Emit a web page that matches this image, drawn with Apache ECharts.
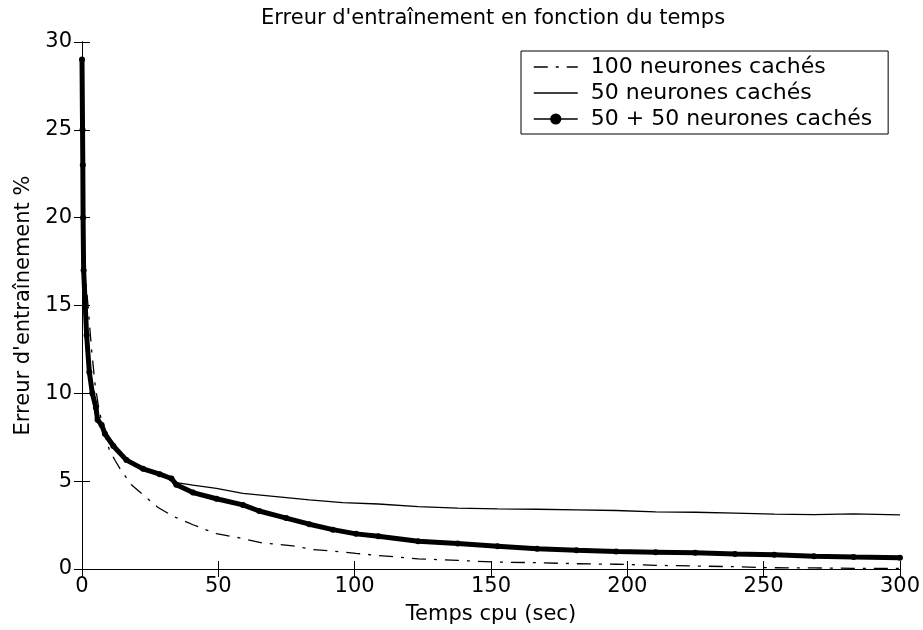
<!DOCTYPE html>
<html>
<head>
<meta charset="utf-8">
<script src="https://cdn.jsdelivr.net/npm/echarts@6/dist/echarts.min.js"></script>
<style>
html,body{margin:0;padding:0;background:#fff;}
#chart{width:923px;height:630px;}
</style>
</head>
<body>
<div id="chart"></div>
<script>
var titleText = "Erreur d'entraînement en fonction du temps";
var xAxisName = "Temps cpu (sec)";
var yAxisName = "Erreur d'entraînement %";
var seriesNames = ["100 neurones cachés", "50 neurones cachés", "50 + 50 neurones cachés"];

// [temps cpu (sec), erreur %]
var neurones100 = [[0,25],[1.1,17],[2.3,14.8],[3.5,12.5],[4.8,10.5],[6,9.3],[8,7.8],[10,6.8],[12.1,6.19],[14.3,5.62],[18.2,4.78],[23.7,4.05],[27.9,3.5],[33.4,3.0],[40.7,2.52],[44.4,2.3],[49.3,2.01],[57.8,1.77],[66.3,1.48],[77.3,1.32],[84.6,1.11],[92,1.02],[100.5,0.89],[108.7,0.77],[123.3,0.58],[137.8,0.49],[152.4,0.39],[166.9,0.36],[181.4,0.30],[195.9,0.27],[210.4,0.21],[224.9,0.17],[239.5,0.13],[253.9,0.07],[268.5,0.06],[283,0.04],[300,0.04]];
var neurones50 = [[0,24],[0.5,19],[1.5,14],[2.8,11.5],[4,10],[6,8.6],[8.5,7.7],[11.5,7.05],[16.3,6.25],[22.4,5.75],[28.5,5.45],[32.8,5.15],[34.6,4.92],[40.7,4.78],[49.3,4.59],[59,4.3],[71.2,4.12],[83.4,3.93],[95.6,3.78],[108.7,3.7],[123.3,3.55],[137.8,3.46],[152.4,3.42],[166.9,3.40],[181.4,3.37],[195.9,3.33],[210.4,3.25],[224.9,3.23],[239.5,3.18],[253.9,3.12],[268.5,3.1],[283,3.14],[300,3.08]];
var neurones50p50 = [[0,29],[0.2,25],[0.3,23],[0.4,20],[0.6,17],[1.7,13.3],[2.7,11.2],[3.8,10.0],[5.1,9.2],[5.7,8.5],[7.2,8.2],[8.4,7.7],[11.5,7.0],[16.3,6.2],[22.4,5.7],[28.5,5.4],[32.8,5.15],[34.6,4.8],[40.7,4.35],[49.3,4.0],[59,3.65],[65,3.3],[74.9,2.9],[83.4,2.55],[92,2.24],[100.5,2.0],[108.7,1.86],[123.3,1.58],[137.8,1.45],[152.4,1.3],[166.9,1.15],[181.4,1.07],[195.9,1.0],[210.4,0.96],[224.9,0.92],[239.5,0.86],[253.9,0.81],[268.5,0.73],[283,0.68],[300,0.64]];

var FONT = "DejaVu Sans";
var chart = echarts.init(document.getElementById('chart'), null, {renderer:'canvas'});
var axisLineStyle = {lineStyle:{color:'#000', width:1}};
var tickStyle = {inside:true, length:8, lineStyle:{color:'#000', width:1}};
chart.setOption({
  animation:false,
  backgroundColor:'#fff',
  title:{text:titleText, left:256, top:3, textStyle:{fontFamily:FONT, fontSize:21, fontWeight:'normal', color:'#000'}},
  grid:{left:82, right:21, top:42, bottom:57},
  legend:{
    orient:'vertical', left:521, top:51,
    backgroundColor:'#fff', borderColor:'#000', borderWidth:1,
    padding:[5,16,4,12], itemWidth:44, itemHeight:14, itemGap:4,
    lineStyle:{width:1.5},
    textStyle:{fontFamily:FONT, fontSize:22, color:'#000', lineHeight:22, padding:[0,0,0,8]},
    data:[
      {name:seriesNames[0], itemStyle:{opacity:0}},
      {name:seriesNames[1], itemStyle:{opacity:0}},
      {name:seriesNames[2]}
    ]
  },
  xAxis:[
    {type:'value', min:0, max:300, interval:50, name:xAxisName, nameLocation:'middle', nameGap:35,
     nameTextStyle:{fontFamily:FONT, fontSize:21, color:'#000'},
     axisLine:axisLineStyle, axisTick:tickStyle, splitLine:{show:false},
     axisLabel:{fontFamily:FONT, fontSize:21, color:'#000', margin:7}},
    {type:'value', position:'top', min:0, max:300, interval:50,
     axisLine:axisLineStyle, axisTick:tickStyle, splitLine:{show:false}, axisLabel:{show:false}}
  ],
  yAxis:[
    {type:'value', min:0, max:30, interval:5, name:yAxisName, nameLocation:'middle', nameGap:46,
     nameTextStyle:{fontFamily:FONT, fontSize:21, color:'#000'},
     axisLine:axisLineStyle, axisTick:tickStyle, splitLine:{show:false},
     axisLabel:{fontFamily:FONT, fontSize:21, color:'#000', margin:10}},
    {type:'value', position:'right', min:0, max:30, interval:5,
     axisLine:axisLineStyle, axisTick:tickStyle, splitLine:{show:false}, axisLabel:{show:false}}
  ],
  series:[
    {name:seriesNames[0], type:'line', data:neurones100, symbol:'none', color:'#000',
     lineStyle:{color:'#000', width:1.3, type:[14,8,3,8]}},
    {name:seriesNames[1], type:'line', data:neurones50, symbol:'none', color:'#000',
     lineStyle:{color:'#000', width:1.3}},
    {name:seriesNames[2], type:'line', data:neurones50p50, symbol:'circle', symbolSize:6, showSymbol:true, color:'#000',
     itemStyle:{color:'#000'}, lineStyle:{color:'#000', width:5}}
  ]
});
</script>
</body>
</html>
